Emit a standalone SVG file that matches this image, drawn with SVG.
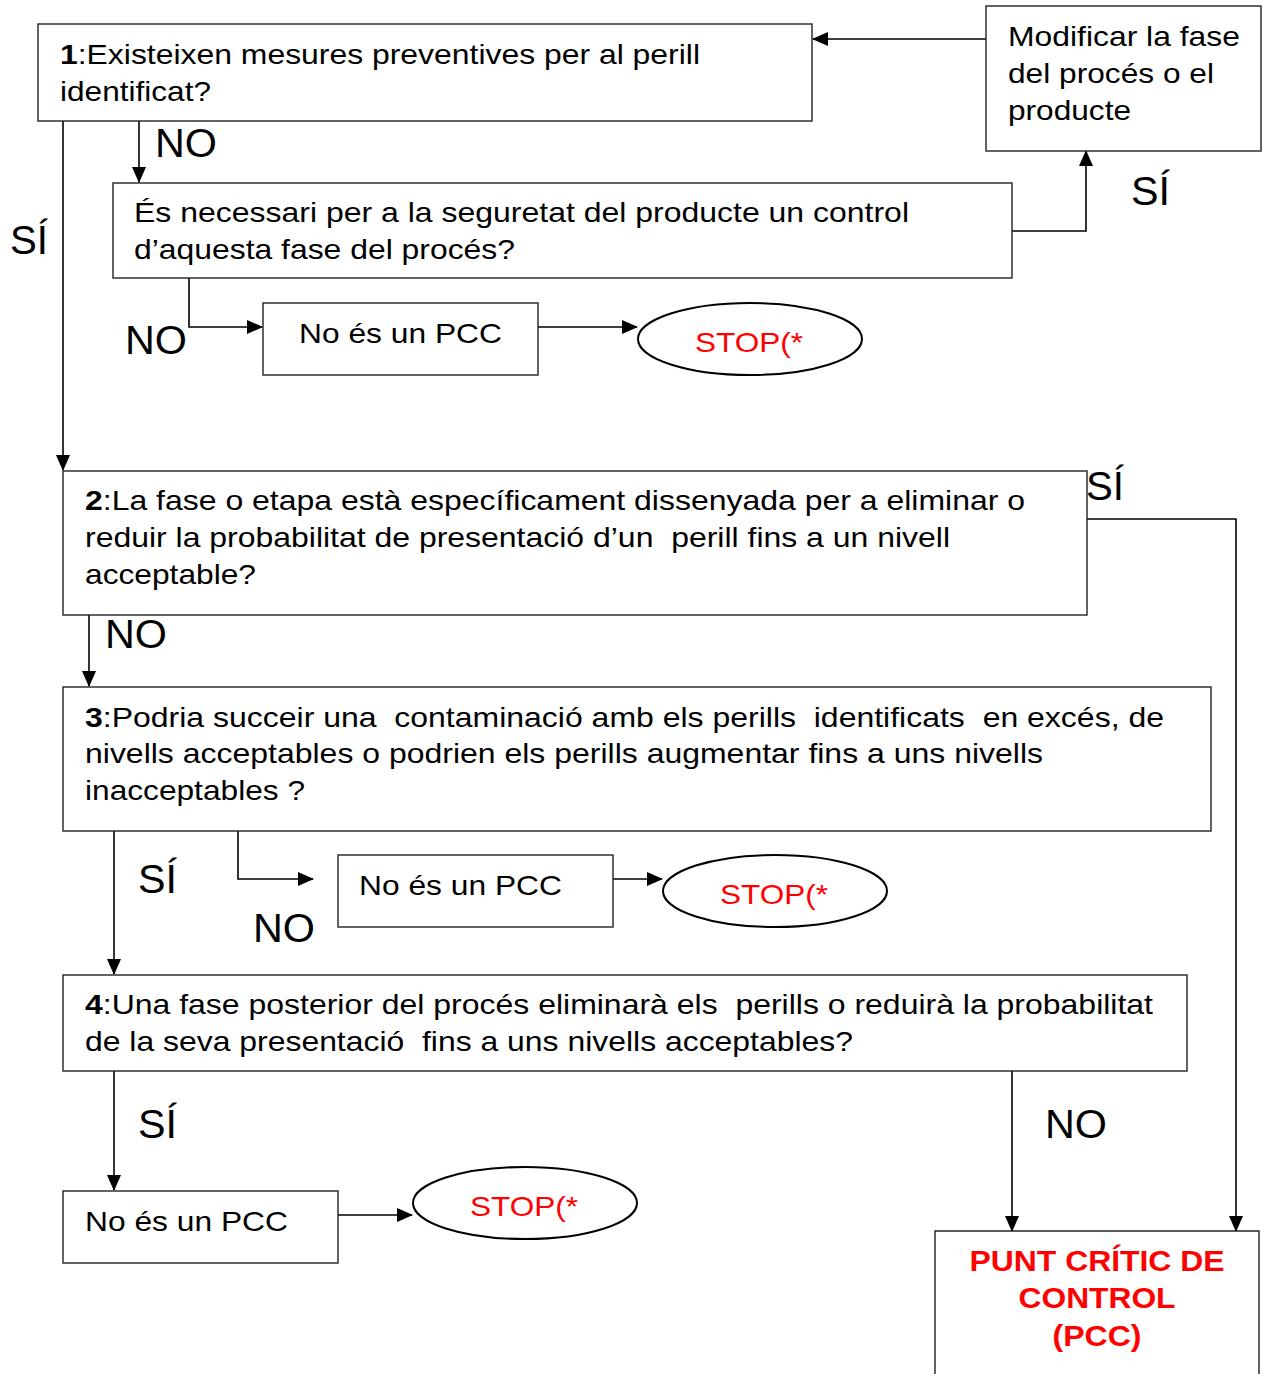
<svg xmlns="http://www.w3.org/2000/svg" width="1267" height="1374" viewBox="0 0 1267 1374">
<defs>
<marker id="ah" markerWidth="16" markerHeight="14" refX="15" refY="7" orient="auto" markerUnits="userSpaceOnUse">
<path d="M0,0 L16,7 L0,14 Z" fill="#000"/>
</marker>
<style>
.box{fill:#fff;stroke:#222;stroke-width:1.4}
.ell{fill:#fff;stroke:#000;stroke-width:2}
.t{font-family:"Liberation Sans",Arial,sans-serif;font-size:28px;fill:#000;white-space:pre}
.lab{font-family:"Liberation Sans",Arial,sans-serif;font-size:41px;fill:#000}
.stop{font-family:"Liberation Sans",Arial,sans-serif;font-size:28px;fill:#f00;text-anchor:middle}
.pcc{font-family:"Liberation Sans",Arial,sans-serif;font-size:29px;font-weight:bold;fill:#f00;text-anchor:middle}
.c{fill:none;stroke:#000;stroke-width:1.6}
</style>
</defs>
<rect width="1267" height="1374" fill="#fff"/>

<g id="connectors">
<path class="c" d="M986,39 H813" marker-end="url(#ah)"/>
<path class="c" d="M139,121 V182" marker-end="url(#ah)"/>
<path class="c" d="M1012,231 H1086 V151" marker-end="url(#ah)"/>
<path class="c" d="M63,121 V470" marker-end="url(#ah)"/>
<path class="c" d="M189,278 V327 H262" marker-end="url(#ah)"/>
<path class="c" d="M538,327 H637" marker-end="url(#ah)"/>
<path class="c" d="M1087,519 H1236 V1231" marker-end="url(#ah)"/>
<path class="c" d="M89,615 V686" marker-end="url(#ah)"/>
<path class="c" d="M114,831 V974" marker-end="url(#ah)"/>
<path class="c" d="M238,831 V879 H313" marker-end="url(#ah)"/>
<path class="c" d="M613,879 H662" marker-end="url(#ah)"/>
<path class="c" d="M114,1071 V1190" marker-end="url(#ah)"/>
<path class="c" d="M338,1215 H412" marker-end="url(#ah)"/>
<path class="c" d="M1012,1071 V1231" marker-end="url(#ah)"/>
</g>

<g id="labels">
<text class="lab" x="155" y="157" textLength="62" lengthAdjust="spacingAndGlyphs">NO</text>
<text class="lab" x="1131" y="205" textLength="39" lengthAdjust="spacingAndGlyphs">SÍ</text>
<text class="lab" x="10" y="254" textLength="38" lengthAdjust="spacingAndGlyphs">SÍ</text>
<text class="lab" x="125" y="354" textLength="62" lengthAdjust="spacingAndGlyphs">NO</text>
<text class="lab" x="1086" y="500" textLength="38" lengthAdjust="spacingAndGlyphs">SÍ</text>
<text class="lab" x="105" y="648" textLength="62" lengthAdjust="spacingAndGlyphs">NO</text>
<text class="lab" x="138" y="893" textLength="39" lengthAdjust="spacingAndGlyphs">SÍ</text>
<text class="lab" x="253" y="942" textLength="62" lengthAdjust="spacingAndGlyphs">NO</text>
<text class="lab" x="138" y="1138" textLength="39" lengthAdjust="spacingAndGlyphs">SÍ</text>
<text class="lab" x="1045" y="1138" textLength="62" lengthAdjust="spacingAndGlyphs">NO</text>
</g>

<g id="q1">
<rect class="box" x="38" y="24" width="774" height="97"/>
<text class="t" x="60" y="64" textLength="640" lengthAdjust="spacingAndGlyphs"><tspan font-weight="bold">1</tspan>:Existeixen mesures preventives per al perill</text>
<text class="t" x="60" y="101" textLength="151" lengthAdjust="spacingAndGlyphs">identificat?</text>
</g>

<g id="modificar">
<rect class="box" x="986" y="6" width="275" height="145"/>
<text class="t" x="1008" y="46" textLength="232" lengthAdjust="spacingAndGlyphs">Modificar la fase</text>
<text class="t" x="1008" y="83" textLength="206" lengthAdjust="spacingAndGlyphs">del procés o el</text>
<text class="t" x="1008" y="120" textLength="123" lengthAdjust="spacingAndGlyphs">producte</text>
</g>

<g id="q1b">
<rect class="box" x="113" y="183" width="899" height="95"/>
<text class="t" x="134" y="222" textLength="775" lengthAdjust="spacingAndGlyphs">És necessari per a la seguretat del producte un control</text>
<text class="t" x="134" y="259" textLength="381" lengthAdjust="spacingAndGlyphs">d’aquesta fase del procés?</text>
</g>

<g id="nopcc1">
<rect class="box" x="263" y="303" width="275" height="72"/>
<text class="t" x="299" y="343" textLength="203" lengthAdjust="spacingAndGlyphs">No és un PCC</text>
</g>

<g id="stop1">
<ellipse class="ell" cx="750" cy="339" rx="112" ry="36"/>
<text class="stop" x="749" y="352" textLength="108" lengthAdjust="spacingAndGlyphs">STOP(*</text>
</g>

<g id="q2">
<rect class="box" x="63" y="471" width="1024" height="144"/>
<text class="t" x="85" y="510" textLength="940" lengthAdjust="spacingAndGlyphs"><tspan font-weight="bold">2</tspan>:La fase o etapa està específicament dissenyada per a eliminar o</text>
<text class="t" x="85" y="547" textLength="865" lengthAdjust="spacingAndGlyphs">reduir la probabilitat de presentació d’un  perill fins a un nivell</text>
<text class="t" x="85" y="584" textLength="171" lengthAdjust="spacingAndGlyphs">acceptable?</text>
</g>

<g id="q3">
<rect class="box" x="63" y="687" width="1148" height="144"/>
<text class="t" x="85" y="727" textLength="1079" lengthAdjust="spacingAndGlyphs"><tspan font-weight="bold">3</tspan>:Podria succeir una  contaminació amb els perills  identificats  en excés, de</text>
<text class="t" x="85" y="763" textLength="958" lengthAdjust="spacingAndGlyphs">nivells acceptables o podrien els perills augmentar fins a uns nivells</text>
<text class="t" x="85" y="800" textLength="220" lengthAdjust="spacingAndGlyphs">inacceptables ?</text>
</g>

<g id="nopcc2">
<rect class="box" x="338" y="855" width="275" height="72"/>
<text class="t" x="359" y="895" textLength="203" lengthAdjust="spacingAndGlyphs">No és un PCC</text>
</g>

<g id="stop2">
<ellipse class="ell" cx="775" cy="891" rx="112" ry="36"/>
<text class="stop" x="774" y="904" textLength="108" lengthAdjust="spacingAndGlyphs">STOP(*</text>
</g>

<g id="q4">
<rect class="box" x="63" y="975" width="1124" height="96"/>
<text class="t" x="85" y="1014" textLength="1068" lengthAdjust="spacingAndGlyphs"><tspan font-weight="bold">4</tspan>:Una fase posterior del procés eliminarà els  perills o reduirà la probabilitat</text>
<text class="t" x="85" y="1051" textLength="768" lengthAdjust="spacingAndGlyphs">de la seva presentació  fins a uns nivells acceptables?</text>
</g>

<g id="nopcc3">
<rect class="box" x="63" y="1191" width="275" height="72"/>
<text class="t" x="85" y="1231" textLength="203" lengthAdjust="spacingAndGlyphs">No és un PCC</text>
</g>

<g id="stop3">
<ellipse class="ell" cx="525" cy="1203" rx="112" ry="36"/>
<text class="stop" x="524" y="1216" textLength="108" lengthAdjust="spacingAndGlyphs">STOP(*</text>
</g>

<g id="pcc">
<path class="box" d="M935,1380 V1231 H1259 V1380"/>
<text class="pcc" x="1097" y="1271" textLength="255" lengthAdjust="spacingAndGlyphs">PUNT CRÍTIC DE</text>
<text class="pcc" x="1097" y="1308" textLength="157" lengthAdjust="spacingAndGlyphs">CONTROL</text>
<text class="pcc" x="1097" y="1346" textLength="89" lengthAdjust="spacingAndGlyphs">(PCC)</text>
</g>
</svg>
